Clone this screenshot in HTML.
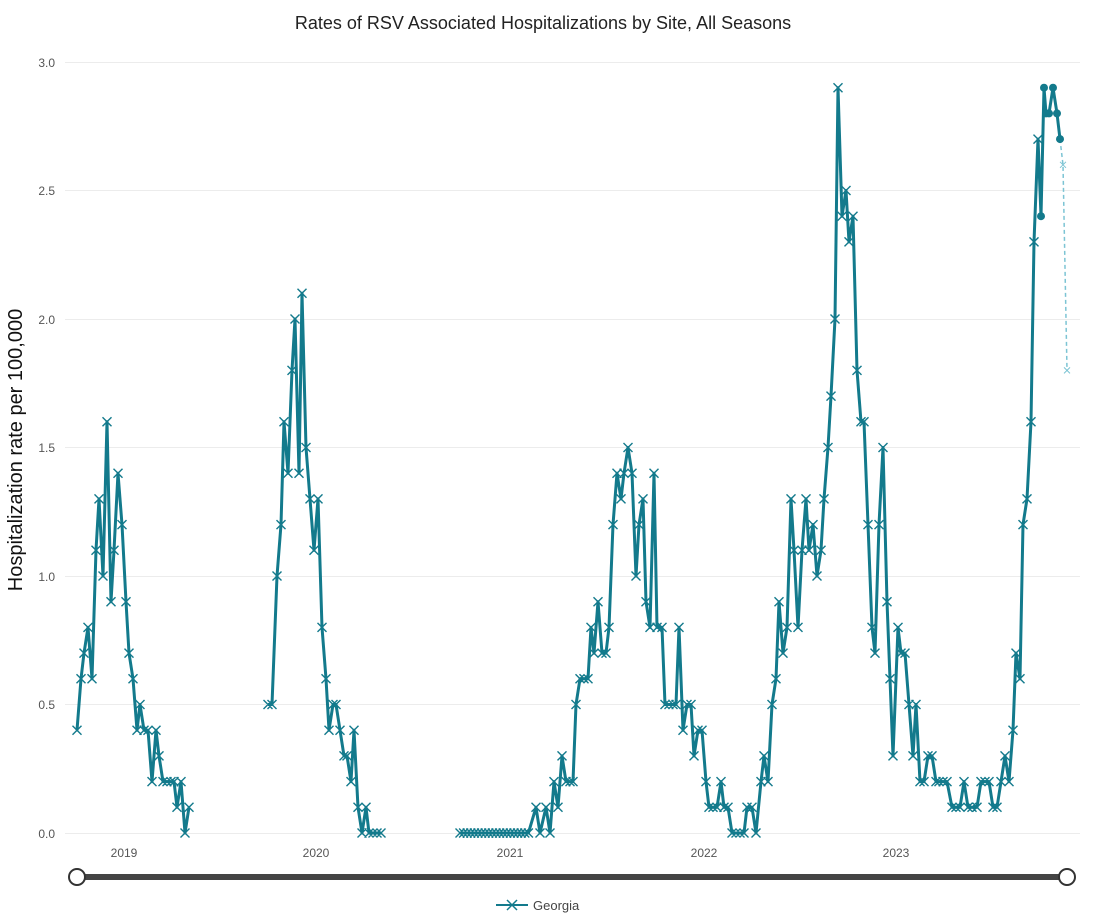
<!DOCTYPE html>
<html><head><meta charset="utf-8"><style>
html,body{margin:0;padding:0;background:#fff}
svg{display:block;font-family:"Liberation Sans",sans-serif}
</style></head><body>
<svg id="s" width="1104" height="923" viewBox="0 0 1104 923" xmlns="http://www.w3.org/2000/svg">
<text x="543" y="29" text-anchor="middle" font-size="18" fill="#222">Rates of RSV Associated Hospitalizations by Site, All Seasons</text>
<g stroke="#ececec" stroke-width="1">
<line x1="65" x2="1080" y1="62.5" y2="62.5"/><line x1="65" x2="1080" y1="190.5" y2="190.5"/>
<line x1="65" x2="1080" y1="319.5" y2="319.5"/><line x1="65" x2="1080" y1="447.5" y2="447.5"/>
<line x1="65" x2="1080" y1="576.5" y2="576.5"/><line x1="65" x2="1080" y1="704.5" y2="704.5"/>
<line x1="65" x2="1080" y1="833.5" y2="833.5"/>
</g>
<g font-size="12" fill="#555" text-anchor="end">
<text x="55" y="67">3.0</text><text x="55" y="195">2.5</text><text x="55" y="324">2.0</text>
<text x="55" y="452">1.5</text><text x="55" y="581">1.0</text><text x="55" y="709">0.5</text><text x="55" y="838">0.0</text>
</g>
<g font-size="12" fill="#555" text-anchor="middle">
<text x="124" y="857">2019</text><text x="316" y="857">2020</text><text x="510" y="857">2021</text>
<text x="704" y="857">2022</text><text x="896" y="857">2023</text>
</g>
<text transform="translate(22,450) rotate(-90)" text-anchor="middle" font-size="20" fill="#111">Hospitalization rate per 100,000</text>
<g id="plot"></g>
<line x1="77" x2="1067" y1="877" y2="877" stroke="#444" stroke-width="6"/>
<circle cx="77" cy="877" r="8" fill="#fff" stroke="#333" stroke-width="2"/>
<circle cx="1067" cy="877" r="8" fill="#fff" stroke="#333" stroke-width="2"/>
<line x1="496" x2="528" y1="905" y2="905" stroke="#137a8c" stroke-width="2"/>
<path d="M507 900 L517 910 M517 900 L507 910" stroke="#137a8c" stroke-width="1.5"/>
<text x="533" y="910" font-size="13" fill="#444">Georgia</text>
</svg>
<script>
var s1=[[77,.4],[81,.6],[84,.7],[88,.8],[92,.6],[96,1.1],[99,1.3],[103,1.0],[107,1.6],[111,.9],[114,1.1],[118,1.4],[122,1.2],[126,.9],[129,.7],[133,.6],[137,.4],[140,.5],[144,.4],[148,.4],[152,.2],[156,.4],[159,.3],[163,.2],[167,.2],[171,.2],[174,.2],[177,.1],[181,.2],[185,0],[189,.1]];
var s2=[[268,.5],[272,.5],[277,1.0],[281,1.2],[284,1.6],[288,1.4],[292,1.8],[295,2.0],[299,1.4],[302,2.1],[306,1.5],[310,1.3],[314,1.1],[318,1.3],[322,.8],[326,.6],[329,.4],[333,.5],[336,.5],[340,.4],[344,.3],[347,.3],[351,.2],[354,.4],[358,.1],[362,0],[366,.1],[369,0],[373,0],[377,0],[381,0]];
var s3=[];for(var x=460;x<=532;x+=3.6)s3.push([x,0]);
s3=s3.concat([[536,.1],[540,0],[546,.1],[550,0],[554,.2],[558,.1],[562,.3],[566,.2],[570,.2],[573,.2],[576,.5],[580,.6],[584,.6],[588,.6],[591,.8],[594,.7],[598,.9],[602,.7],[606,.7],[609,.8],[613,1.2],[617,1.4],[621,1.3],[624,1.4],[628,1.5],[632,1.4],[636,1.0],[639,1.2],[643,1.3],[646,.9],[650,.8],[654,1.4],[657,.8],[662,.8],[665,.5],[669,.5],[673,.5],[676,.5],[679,.8],[683,.4],[687,.5],[691,.5],[694,.3],[698,.4],[702,.4],[706,.2],[709,.1],[713,.1],[717,.1],[721,.2],[724,.1],[728,.1],[732,0],[736,0],[740,0],[744,0],[747,.1],[752,.1],[756,0],
[761,.2],[764,.3],[768,.2],[772,.5],[776,.6],[779,.9],[783,.7],[787,.8],[791,1.3],[794,1.1],[798,.8],[802,1.1],[806,1.3],[809,1.1],[813,1.2],[817,1.0],[821,1.1],[824,1.3],[828,1.5],[831,1.7],[835,2.0],[838,2.9],[842,2.4],[846,2.5],[849,2.3],[853,2.4],[857,1.8],[861,1.6],[864,1.6],[868,1.2],[872,.8],[875,.7],[879,1.2],[883,1.5],[887,.9],[890,.6],[893,.3],[898,.8],[901,.7],[905,.7],[909,.5],[913,.3],[916,.5],[920,.2],[924,.2],[928,.3],[932,.3],[936,.2],[939,.2],[943,.2],[947,.2],[952,.1],[956,.1],[960,.1],[964,.2],[968,.1],[972,.1],[977,.1],[981,.2],[985,.2],[989,.2],[993,.1],[997,.1],[1001,.2],[1005,.3],[1009,.2],[1013,.4],[1016,.7],[1020,.6],[1023,1.2],[1027,1.3],[1031,1.6],[1034,2.3],[1038,2.7]]);
var circ=[[1041,2.4],[1044,2.9],[1046,2.8],[1049,2.8],[1053,2.9],[1057,2.8],[1060,2.7]];
var C="#137a8c",NS="http://www.w3.org/2000/svg",g=document.getElementById("plot");
function Y(v){return 833-v*257}
function el(t,a){var e=document.createElementNS(NS,t);for(var k in a)e.setAttribute(k,a[k]);g.appendChild(e);return e}
function pts(a){return a.map(function(p){return p[0]+","+Y(p[1]).toFixed(1)}).join(" ")}
el("polyline",{points:pts([[1060,2.7],[1063,2.6],[1067,1.8]]),fill:"none",stroke:"#7cc4d4","stroke-width":1.5,"stroke-dasharray":"4,3"});
[[1063,2.6],[1067,1.8]].forEach(function(p){var y=Y(p[1]);el("path",{d:"M"+(p[0]-3)+" "+(y-3)+"L"+(p[0]+3)+" "+(y+3)+"M"+(p[0]+3)+" "+(y-3)+"L"+(p[0]-3)+" "+(y+3),stroke:"#7cc4d4","stroke-width":1})});
var s3c=s3.concat(circ);
[s1,s2,s3c].forEach(function(s){el("polyline",{points:pts(s),fill:"none",stroke:C,"stroke-width":3,"stroke-linejoin":"round"})});
var d="";[s1,s2,s3].forEach(function(s){s.forEach(function(p){var x=p[0],y=Y(p[1]);d+="M"+(x-4.5)+" "+(y-4.5)+"L"+(x+4.5)+" "+(y+4.5)+"M"+(x+4.5)+" "+(y-4.5)+"L"+(x-4.5)+" "+(y+4.5)})});
el("path",{d:d,stroke:C,"stroke-width":1.4,fill:"none"});
circ.forEach(function(p){el("circle",{cx:p[0],cy:Y(p[1]),r:4,fill:C})});
</script>
</body></html>
